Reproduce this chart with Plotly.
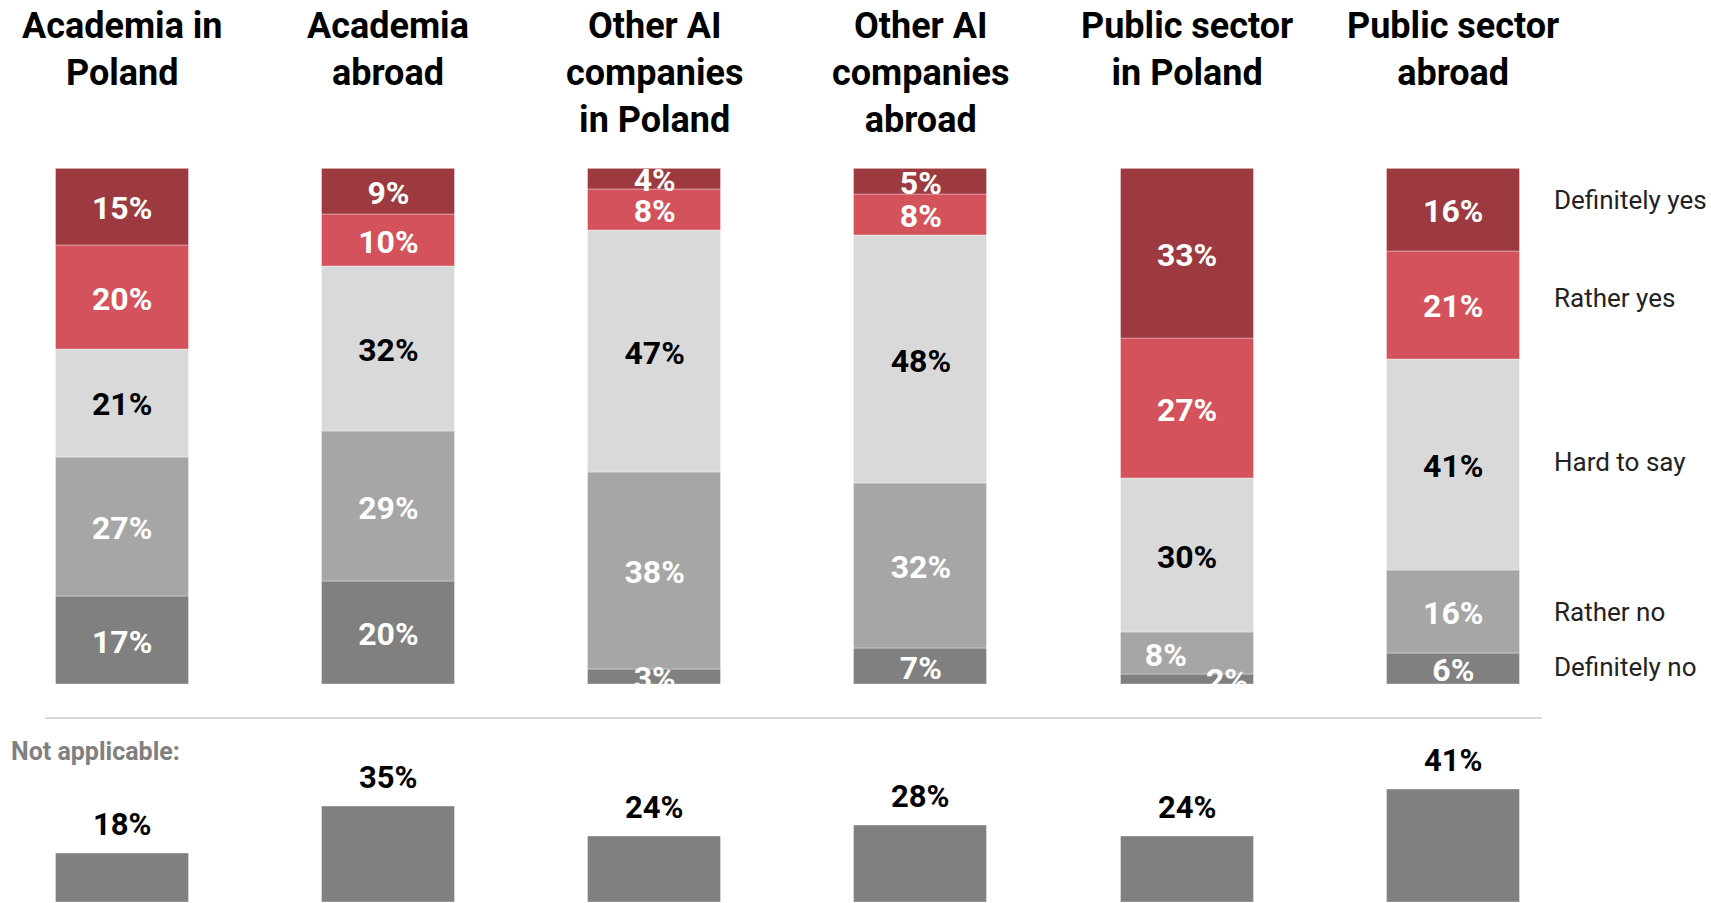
import plotly.graph_objects as go

# Survey: would respondents consider moving to each type of employer?
categories = [
    "Academia in<br>Poland",
    "Academia<br>abroad",
    "Other AI<br>companies<br>in Poland",
    "Other AI<br>companies<br>abroad",
    "Public sector<br>in Poland",
    "Public sector<br>abroad",
]

# Shares (%) of answers, stacked bottom to top
definitely_no = [17, 20, 3, 7, 2, 6]
rather_no = [27, 29, 38, 32, 8, 16]
hard_to_say = [21, 32, 47, 48, 30, 41]
rather_yes = [20, 10, 8, 8, 27, 21]
definitely_yes = [15, 9, 4, 5, 33, 16]

not_applicable = [18, 35, 24, 28, 24, 41]

series = [
    ("Definitely no", definitely_no, "#808080", "white"),
    ("Rather no", rather_no, "#A6A6A6", "white"),
    ("Hard to say", hard_to_say, "#D9D9D9", "black"),
    ("Rather yes", rather_yes, "#D4525C", "white"),
    ("Definitely yes", definitely_yes, "#9C3A3F", "white"),
]

# Sideways nudges for crowded labels (category index, answer) -> x offset
label_nudge = {(4, "Rather no"): -0.08, (4, "Definitely no"): 0.15}
# Vertical shift (px) of each answer name beside the last column, bottom to top
side_shift = [2, 0, 3, 7, 10]

W, H = 1711, 903
FONT = "Roboto"
x_idx = list(range(len(categories)))
x_range = [-0.459, 5.968]
bar_w = 0.5

fig = go.Figure()

base = [0] * len(categories)
label_x, label_y, label_t, label_c = [], [], [], []
for name, vals, color, txt_color in series:
    fig.add_trace(go.Bar(
        x=x_idx, y=vals, base=base, name=name, width=bar_w,
        marker=dict(color=color, line=dict(color="rgba(255,255,255,0.35)", width=1)),
        xaxis="x", yaxis="y", showlegend=False, hoverinfo="skip",
    ))
    for i, v in enumerate(vals):
        label_x.append(i + label_nudge.get((i, name), 0))
        label_y.append(base[i] + v / 2 - 0.8)
        label_t.append(f"{v}%")
        label_c.append(txt_color)
    base = [b + v for b, v in zip(base, vals)]

fig.add_trace(go.Scatter(
    x=label_x, y=label_y, text=label_t, mode="text",
    textfont=dict(family=FONT, size=32, color=label_c, weight="bold"),
    textposition="middle center", cliponaxis=True,
    xaxis="x", yaxis="y", showlegend=False, hoverinfo="skip",
))

fig.add_trace(go.Bar(
    x=x_idx, y=not_applicable, width=bar_w, name="Not applicable",
    marker=dict(color="#808080", line=dict(color="rgba(255,255,255,0.35)", width=1)),
    xaxis="x2", yaxis="y2", showlegend=False, hoverinfo="skip",
))

annotations = []
# Column headings
for i, cat in enumerate(categories):
    annotations.append(dict(
        x=i, y=1.0 - 3 / H, xref="x", yref="paper", text=f"<b>{cat}</b>",
        xanchor="center", yanchor="top", showarrow=False,
        font=dict(family=FONT, size=36, color="black"),
    ))

# Answer names beside the last column
last = len(categories) - 1
cum = 0
for (name, vals, _, _), shift in zip(series, side_shift):
    annotations.append(dict(
        x=last + 0.37, y=cum + vals[last] / 2, xref="x", yref="y",
        text=name, xanchor="left", yanchor="middle", yshift=shift, showarrow=False,
        font=dict(family=FONT, size=26, color="#222222"),
    ))
    cum += vals[last]

# Not-applicable values above their bars
for i, v in enumerate(not_applicable):
    annotations.append(dict(
        x=i, y=v, xref="x2", yref="y2", text=f"<b>{v}%</b>",
        xanchor="center", yanchor="middle", yshift=29, showarrow=False,
        font=dict(family=FONT, size=31, color="black"),
    ))

annotations.append(dict(
    x=9 / W, y=(H - 751) / H, xref="paper", yref="paper",
    text="<b>Not applicable:</b>", xanchor="left", yanchor="middle",
    showarrow=False, font=dict(family=FONT, size=25, color="#808080"),
))

top_dom = [(H - 684.5) / H, (H - 168.5) / H]
bot_dom = [0, 0.16]

fig.update_layout(
    width=W, height=H,
    margin=dict(l=0, r=0, t=0, b=0),
    paper_bgcolor="white", plot_bgcolor="white",
    barmode="overlay", bargap=0,
    xaxis=dict(range=x_range, visible=False, domain=[0, 1], anchor="y"),
    yaxis=dict(range=[0, 100], visible=False, domain=top_dom, anchor="x"),
    xaxis2=dict(range=x_range, visible=False, domain=[0, 1], anchor="y2"),
    yaxis2=dict(range=[0, bot_dom[1] * H / 2.77], visible=False, domain=bot_dom, anchor="x2"),
    annotations=annotations,
    shapes=[dict(
        type="line", xref="paper", yref="paper",
        x0=45 / W, x1=1542 / W, y0=(H - 718) / H, y1=(H - 718) / H,
        line=dict(color="#CCCCCC", width=1.5),
    )],
)

fig.write_html("out.html")
